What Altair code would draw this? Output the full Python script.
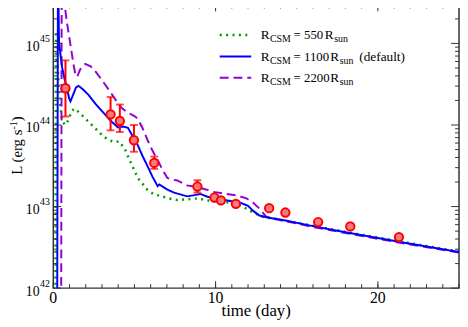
import altair as alt
import pandas as pd

SERIF = "Liberation Serif"
W, H = 412, 288

# ---------------- observed light curve (time in days, L in erg/s) ----------------
obs_t = [0.75, 3.53, 4.10, 4.97, 6.22, 8.88, 9.93, 10.33, 11.25, 13.3, 14.3, 16.32, 18.3, 21.3]
obs_L = [2.82e44, 1.35e44, 1.12e44, 6.5e43, 3.43e43, 1.76e43, 1.29e43, 1.19e43, 1.08e43,
         9.55e42, 8.45e42, 6.46e42, 5.71e42, 4.22e42]
obs_hi = [6.2e44, 2.2e44, 1.78e44, 1.0e44, 4.1e43, 2.1e43, 1.36e43, 1.25e43, 1.14e43,
          1.0e43, 8.9e42, 6.8e42, 6.0e42, 4.45e42]
obs_lo = [1.27e44, 8.6e43, 8.2e43, 4.7e43, 2.9e43, 1.48e43, 1.22e43, 1.13e43, 1.02e43,
          9.1e42, 8.0e42, 6.1e42, 5.4e42, 4.0e42]

# ---------------- model curves (time, log10 L) ----------------
r550_t = [0.12, 0.16, 0.22, 0.30, 0.40, 0.50, 0.60, 0.75, 0.90, 1.10, 1.26, 1.50, 1.97, 2.58,
          3.08, 3.50, 3.80, 4.05, 4.40, 4.70, 5.21, 5.82, 6.20, 6.62, 7.10, 7.64, 8.30, 8.86,
          9.30, 9.67, 10.30, 10.88, 11.60, 12.10, 12.50, 12.90, 13.50, 14.33, 16.0, 18.0,
          20.0, 22.0, 25.0]
r550_logL = [40.0, 45.15, 44.90, 44.60, 44.30, 44.12, 44.03, 44.00, 44.05, 44.15, 44.20, 44.17,
             44.08, 43.96, 43.86, 43.81, 43.79, 43.80, 43.71, 43.57, 43.35, 43.20, 43.15, 43.13,
             43.10, 43.08, 43.09, 43.10, 43.085, 43.068, 43.06, 43.05, 43.007, 42.95, 42.91,
             42.875, 42.855, 42.826, 42.765, 42.69, 42.62, 42.55, 42.448]

r1100_t = [0.22, 0.29, 0.35, 0.45, 0.55, 0.70, 0.85, 0.97, 1.06, 1.20, 1.40, 1.56, 1.80, 2.17,
           2.60, 3.18, 3.60, 3.99, 4.30, 4.60, 4.90, 5.21, 5.50, 5.82, 6.10, 6.43, 6.53, 7.00,
           7.44, 8.25, 8.70, 9.06, 9.50, 10.27, 10.90, 11.49, 12.00, 12.30, 12.70, 13.20,
           14.30, 16.0, 18.0, 20.0, 22.0, 25.0]
r1100_logL = [40.0, 46.0, 45.02, 44.85, 44.70, 44.56, 44.45, 44.33, 44.29, 44.36, 44.46, 44.48,
              44.44, 44.37, 44.26, 44.13, 44.04, 43.97, 43.98, 43.965, 43.86, 43.75, 43.62,
              43.49, 43.37, 43.25, 43.27, 43.21, 43.17, 43.125, 43.14, 43.155, 43.12, 43.09,
              43.068, 43.05, 43.01, 42.95, 42.89, 42.865, 42.83, 42.76, 42.685, 42.615,
              42.545, 42.444]

r2200_t = [0.47, 0.52, 0.62, 0.83, 1.06, 1.23, 1.36, 1.47, 1.65, 1.97, 2.30, 2.58, 3.00, 3.39,
           3.80, 4.20, 4.60, 5.00, 5.21, 5.50, 5.82, 6.10, 6.43, 6.73, 7.03, 7.34, 7.64, 8.25,
           8.86, 9.40, 9.87, 10.50, 11.29, 11.90, 12.30, 12.70, 13.10, 13.50, 14.33, 16.0,
           18.0, 20.0, 22.0, 25.0]
r2200_logL = [40.0, 46.0, 45.60, 45.27, 44.98, 44.76, 44.62, 44.59, 44.68, 44.75, 44.72, 44.66,
              44.55, 44.44, 44.32, 44.21, 44.15, 44.11, 44.075, 43.96, 43.81, 43.69, 43.57,
              43.45, 43.35, 43.33, 43.32, 43.26, 43.24, 43.21, 43.18, 43.16, 43.137, 43.10,
              43.05, 42.976, 42.88, 42.855, 42.82, 42.75, 42.675, 42.605, 42.535, 42.436]

# ---------------- axis ticks / labels ----------------
x_major = [0, 10, 20]
x_labels = ["0", "10", "20"]
x_minor = list(range(0, 26))
y_major = [1e42, 1e43, 1e44, 1e45]
y_exps = ["42", "43", "44", "45"]
y_minor = [k * 10.0 ** d for d in (42, 43, 44, 45) for k in range(2, 10) if k * 10.0 ** d <= 3e45]

xs = alt.Scale(domain=[0, 25], nice=False, zero=False)
ys = alt.Scale(type="log", domain=[1e42, 3e45], nice=False)


def X(f):
    return alt.X(f, type="quantitative", scale=xs, axis=None)


def Y(f):
    return alt.Y(f, type="quantitative", scale=ys, axis=None)


one = pd.DataFrame({"_": [0]})


def label(text, x, y, size, align="left", angle=None, baseline="alphabetic"):
    kw = dict(align=align, baseline=baseline, fontSize=size, font=SERIF, color="black")
    if angle is not None:
        kw["angle"] = angle
    return alt.Chart(one).mark_text(**kw).encode(
        x=alt.value(x), y=alt.value(y), text=alt.value(text))


def curve(t, logL, color, dash, width):
    df = pd.DataFrame({"t": t, "L": [10.0 ** v for v in logL], "i": range(len(t))})
    kw = dict(color=color, strokeWidth=width, clip=True)
    if dash:
        kw["strokeDash"] = dash
    return alt.Chart(df).mark_line(**kw).encode(x=X("t"), y=Y("L"), order="i:Q")


GREEN, BLUE, PURPLE, RED = "#009900", "#0000ff", "#9400d3", "#ff0000"
AX = "#333333"
DOT = [2, 4.5]
DASH = [9, 5]

layers = []
layers.append(curve(r550_t, r550_logL, GREEN, DOT, 2.5))
layers.append(curve(r2200_t, r2200_logL, PURPLE, DASH, 2))
layers.append(curve(r1100_t, r1100_logL, BLUE, None, 2))

obs = pd.DataFrame({"t": obs_t, "L": obs_L, "hi": obs_hi, "lo": obs_lo})
layers.append(alt.Chart(obs).mark_rule(color=RED, strokeWidth=2).encode(
    x=X("t"), y=Y("lo"), y2="hi"))
layers.append(alt.Chart(obs).mark_tick(color=RED, orient="horizontal", size=8, thickness=2).encode(
    x=X("t"), y=Y("hi")))
layers.append(alt.Chart(obs).mark_tick(color=RED, orient="horizontal", size=8, thickness=2).encode(
    x=X("t"), y=Y("lo")))
layers.append(alt.Chart(obs).mark_circle(size=72, fill="#f67c7c", stroke=RED, strokeWidth=2,
                                         opacity=1).encode(x=X("t"), y=Y("L")))

# ticks (inward)
xmin_df = pd.DataFrame({"t": x_minor})
xmaj_df = pd.DataFrame({"t": x_major, "lab": x_labels})
ymin_df = pd.DataFrame({"v": y_minor})
ymaj_df = pd.DataFrame({"v": y_major, "e": y_exps})
for df, ln in ((xmin_df, 4), (xmaj_df, 7)):
    layers.append(alt.Chart(df).mark_rule(color=AX, strokeWidth=1).encode(
        x=X("t"), y=alt.value(H), y2=alt.value(H - ln)))
    layers.append(alt.Chart(df).mark_rule(color=AX, strokeWidth=1).encode(
        x=X("t"), y=alt.value(0), y2=alt.value(ln)))
for df, ln in ((ymin_df, 4), (ymaj_df, 8)):
    layers.append(alt.Chart(df).mark_rule(color=AX, strokeWidth=1).encode(
        y=Y("v"), x=alt.value(0), x2=alt.value(ln)))
    layers.append(alt.Chart(df).mark_rule(color=AX, strokeWidth=1).encode(
        y=Y("v"), x=alt.value(W), x2=alt.value(W - ln)))

# tick labels
layers.append(alt.Chart(xmaj_df).mark_text(font=SERIF, fontSize=16, align="center",
                                           baseline="alphabetic", color="black").encode(
    x=X("t"), y=alt.value(H + 15.5), text="lab:N"))
layers.append(alt.Chart(ymaj_df).mark_text(font=SERIF, fontSize=14, align="right",
                                           baseline="alphabetic", dy=7.5, color="black").encode(
    y=Y("v"), x=alt.value(-14), text=alt.value("10")))
layers.append(alt.Chart(ymaj_df).mark_text(font=SERIF, fontSize=10, align="left",
                                           baseline="alphabetic", dy=-1.5, color="black").encode(
    y=Y("v"), x=alt.value(-13.5), text="e:N"))

# axis titles
layers.append(label("time (day)", 206, 316.5, 17, align="center"))
layers.append(label("L (erg s", -31.5, 127, 15, align="right", angle=270))
layers.append(label("-1", -36.5, 127, 10, align="left", angle=270))
layers.append(label(")", -31.5, 118.5, 15, align="left", angle=270))

# legend
legend_vals = ["550", "1100", "2200"]
legend_extra = ["", "(default)", ""]
legend_colors = [GREEN, BLUE, PURPLE]
legend_dash = [DOT, None, DASH]
legend_width = [2.5, 2, 2]
base_y = [35.3, 57.0, 78.7]
r2_x = [275.7, 281.3, 281.3]
for i in range(3):
    by = base_y[i]
    kw = dict(color=legend_colors[i], strokeWidth=legend_width[i])
    if legend_dash[i]:
        kw["strokeDash"] = legend_dash[i]
    layers.append(alt.Chart(one).mark_rule(**kw).encode(
        x=alt.value(169), x2=alt.value(201), y=alt.value(by - 4.3)))
    layers.append(label("R", 210.7, by, 13.5))
    layers.append(label("CSM", 220, by + 3, 10))
    layers.append(label("= " + legend_vals[i], 244, by, 13))
    layers.append(label("R", r2_x[i], by, 13.5))
    layers.append(label("sun", r2_x[i] + 9.5, by + 3, 10))
    if legend_extra[i]:
        layers.append(label(legend_extra[i], 310.7, by, 13.5))

chart = alt.layer(*layers).properties(
    width=W, height=H, autosize="none",
    padding={"left": 46, "top": -6, "right": 1, "bottom": 36},
).configure_view(stroke=AX, strokeWidth=1.5)

chart.save("out.html", embed_options={"renderer": "svg", "actions": False})
